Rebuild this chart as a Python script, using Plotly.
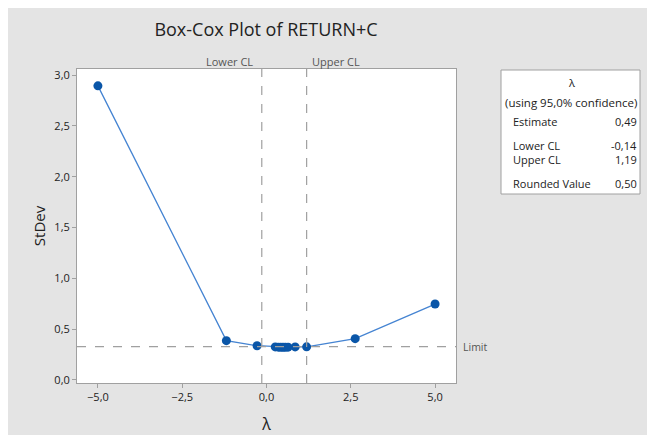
import plotly.graph_objects as go

# ---- data ----
lambdas = [-5.0, -1.19, -0.28, 0.26, 0.35, 0.42, 0.49, 0.56, 0.64, 0.85, 1.19, 2.63, 5.0]
stdevs = [2.894, 0.387, 0.337, 0.325, 0.323, 0.322, 0.322, 0.322, 0.323, 0.325, 0.326, 0.406, 0.747]
lower_cl = -0.14
upper_cl = 1.19
limit = 0.328
x_ticks = [-5.0, -2.5, 0.0, 2.5, 5.0]
y_ticks = [0.0, 0.5, 1.0, 1.5, 2.0, 2.5, 3.0]
table_rows = [("Estimate", "0,49"), ("Lower CL", "-0,14"), ("Upper CL", "1,19"), ("Rounded Value", "0,50")]

# page body has an 8px margin; reference-pixel layout below
OFF = 8
W, H = 655 - OFF, 435 - OFF
L, R, T, B = 77, 456, 69, 383  # plot area in reference pixels
FONT = "Open Sans"
GRAY = "#a0a0a0"
TXT = "#222222"


def px(x):
    return (x - L) / (R - L)


def py(y):
    return (B - y) / (B - T)


fig = go.Figure()
fig.add_trace(go.Scatter(
    x=lambdas, y=stdevs, mode="lines+markers",
    line=dict(color="#4584d2", width=1.3),
    marker=dict(color="#0a56a8", size=9),
    showlegend=False, hoverinfo="x+y",
))

shapes = []
for v in (lower_cl, upper_cl):
    shapes.append(dict(type="line", xref="x", yref="paper", x0=v, x1=v, y0=0, y1=1,
                       line=dict(color=GRAY, width=1.2, dash="dash")))
shapes.append(dict(type="line", xref="paper", yref="y", x0=0, x1=1, y0=limit, y1=limit,
                   line=dict(color=GRAY, width=1.2, dash="dash")))
# info box
shapes.append(dict(type="rect", xref="paper", yref="paper",
                   x0=px(501), x1=px(640), y0=py(194), y1=py(70),
                   line=dict(color=GRAY, width=1), fillcolor="white"))

ann = []
ann.append(dict(text="Lower CL", xref="x", yref="paper", x=lower_cl, y=py(62), xanchor="right", xshift=-7,
                yanchor="middle", showarrow=False, font=dict(family=FONT, size=11, color="#555")))
ann.append(dict(text="Upper CL", xref="x", yref="paper", x=upper_cl, y=py(62), xanchor="left", xshift=3,
                yanchor="middle", showarrow=False, font=dict(family=FONT, size=11, color="#555")))
ann.append(dict(text="Limit", xref="paper", yref="y", x=px(461), y=limit, xanchor="left", yanchor="middle",
                showarrow=False, font=dict(family=FONT, size=10.5, color="#555")))
ann.append(dict(text="λ", xref="paper", yref="paper", x=px(571), y=py(82), xanchor="center", yanchor="middle",
                showarrow=False, font=dict(family=FONT, size=11, color=TXT)))
ann.append(dict(text="(using 95,0% confidence)", xref="paper", yref="paper", x=px(570.5), y=py(102),
                xanchor="center", yanchor="middle", showarrow=False, font=dict(family=FONT, size=11.5, color=TXT)))
row_y = [122, 145, 159.5, 183]
for (lab, val), yy in zip(table_rows, row_y):
    ann.append(dict(text=lab, xref="paper", yref="paper", x=px(512), y=py(yy), xanchor="left", yanchor="middle",
                    borderpad=0, showarrow=False, font=dict(family=FONT, size=11, color=TXT)))
    ann.append(dict(text=val, xref="paper", yref="paper", x=px(638), y=py(yy), xanchor="right", yanchor="middle",
                    borderpad=0, showarrow=False, font=dict(family=FONT, size=11, color=TXT)))

fig.update_layout(
    width=W, height=H,
    margin=dict(l=L - OFF, r=655 - R, t=T - OFF, b=435 - B, pad=0, autoexpand=False),
    paper_bgcolor="#e4e4e4", plot_bgcolor="white",
    separators=",.",
    font=dict(family=FONT, size=11, color=TXT),
    title=dict(text="Box-Cox Plot of RETURN+C", x=(266 - OFF) / W, xanchor="center",
               y=1 - (30 - OFF) / H, yanchor="middle",
               font=dict(family=FONT, size=18, color=TXT)),
    shapes=shapes, annotations=ann,
    xaxis=dict(range=[-5.62, 5.62], tickvals=x_ticks, tickformat=".1f", ticks="outside", ticklen=4,
               tickcolor=GRAY, showgrid=False, zeroline=False, showline=True, linecolor=GRAY, mirror=True,
               automargin=False,
               title=dict(text="λ", font=dict(family=FONT, size=16, color=TXT), standoff=17),
               tickfont=dict(family=FONT, size=11, color=TXT)),
    yaxis=dict(range=[-0.03, 3.06], tickvals=y_ticks, tickformat=".1f", ticks="outside", ticklen=4,
               tickcolor=GRAY, showgrid=False, zeroline=False, showline=True, linecolor=GRAY, mirror=True,
               automargin=False,
               title=dict(text="StDev", font=dict(family=FONT, size=15, color=TXT), standoff=5),
               tickfont=dict(family=FONT, size=11, color=TXT)),
)

fig.write_html("out.html")
